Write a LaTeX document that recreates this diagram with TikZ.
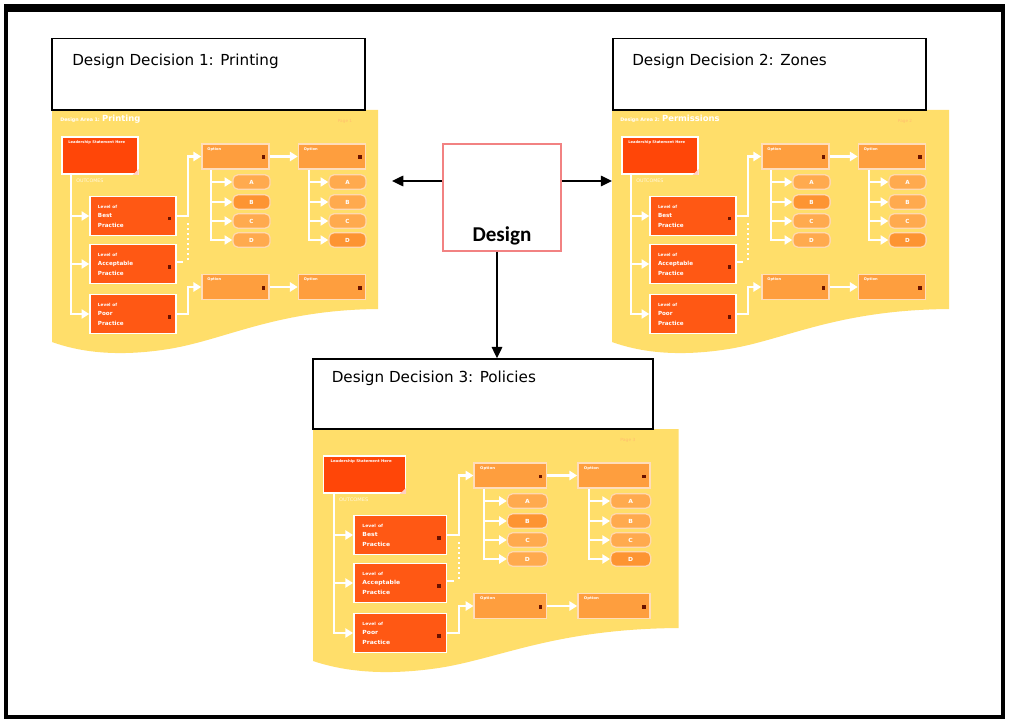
\documentclass[tikz,border=0pt]{standalone}
\usepackage{fontspec}
\setmainfont{DejaVu Sans}
\newfontfamily\designfont{Carlito}
\usepackage{tikz}
\usetikzlibrary{arrows.meta,positioning}
\definecolor{sheetyellow}{RGB}{255,222,106}
\definecolor{leadred}{RGB}{255,70,8}
\definecolor{cardred}{RGB}{255,88,20}
\definecolor{optorange}{RGB}{254,158,62}
\definecolor{pilllight}{RGB}{255,170,78}
\definecolor{pilldark}{RGB}{253,148,50}
\definecolor{icondark}{RGB}{105,18,0}
\definecolor{pagetxt}{RGB}{255,190,110}
\definecolor{outcometxt}{RGB}{255,248,225}
\definecolor{designpink}{RGB}{242,130,130}
\tikzset{
    ddbox/.style={draw=black, line width=1.1pt, fill=white, minimum width=7.82cm, minimum height=1.79cm, inner sep=0pt},
    ddlabel/.style={anchor=west, inner sep=0pt, font=\fontsize{10.8}{13}\selectfont},
    link/.style={line width=1.1pt, -{Triangle[length=8pt,width=7.5pt]}},
    flow/.style={draw=white, line width=1.7pt, -{Triangle[length=5.5pt,width=6.5pt]}},
    leadbox/.style={fill=leadred, draw=white, line width=1pt, minimum width=1.9cm, minimum height=0.93cm, inner sep=0pt},
    card/.style={fill=cardred, draw=white, line width=1pt, minimum width=2.15cm, minimum height=0.97cm, text width=1.75cm, inner xsep=0.2cm, align=left, text=white, font=\fontsize{4}{6.8}\selectfont\bfseries},
    optbox/.style={fill=optorange, draw=white!65!optorange, line width=1pt, minimum width=1.68cm, minimum height=0.62cm, inner sep=0pt},
    pill/.style={draw=white!55!pilllight, line width=0.9pt, rounded corners=3.5pt, minimum width=0.93cm, minimum height=0.36cm, inner sep=0pt, text=white, font=\fontsize{4}{4.5}\selectfont\bfseries},
    tinytxt/.style={inner sep=0pt, text=white, font=\fontsize{2.6}{3}\selectfont\bfseries},
    pics/panel/.style n args={4}{code={
        \fill[sheetyellow] (0,0) -- (#1,0) -- (#1,199) .. controls (220,200) and (170,232) .. (110,240) .. controls (60,247) and (25,241) .. (0,232) -- cycle;
        \node[tinytxt, anchor=base west, font=\fontsize{3.4}{4}\selectfont\bfseries] (-head) at (8,12) {#2 \fontsize{6}{7}\selectfont #3};
        \node[tinytxt, text=pagetxt, font=\fontsize{3}{3.5}\selectfont] (-page) at (293,11) {#4};
        \node[leadbox] (-big) at (48,45.5) {};
        \node[tinytxt, anchor=west] (-bigtxt) at (16,32) {Leadership Statement Here};
        \fill[white!75!leadred] (-big.south east) -- ++(-6,0) -- ++(6,-6) -- cycle;
        \node[tinytxt, text=outcometxt, anchor=west, font=\fontsize{3.4}{4}\selectfont] (-outc) at (24,71) {OUTCOMES};
        \node[card] (-c1) at (81,106) {{\fontsize{3}{3}\selectfont Level of}\\Best\\Practice};
        \node[card] (-c2) at (81,154) {{\fontsize{3}{3}\selectfont Level of}\\Acceptable\\Practice};
        \node[card] (-c3) at (81,204) {{\fontsize{3}{3}\selectfont Level of}\\Poor\\Practice};
        \foreach \c in {c1,c2,c3}
            \fill[icondark] (-\c.east) ++(-9,1) rectangle ++(3.5,3.5);
        \coordinate (-tr) at ([xshift=0.25cm]-big.south west);
        \draw[flow] (-tr) |- (-c3);
        \draw[flow] (-tr |- -c1) -- (-c1);
        \draw[flow] (-tr |- -c2) -- (-c2);
        \node[optbox] (-a1) at (183.5,46.5) {};
        \node[optbox] (-a2) at (280,46.5) {};
        \node[optbox] (-b1) at (183.5,177) {};
        \node[optbox] (-b2) at (280,177) {};
        \foreach \o in {a1,a2,b1,b2}{
            \node[tinytxt, anchor=north west] (-\o t) at ([shift={(6,4)}]-\o.north west) {Option};
            \fill[icondark] (-\o.east) ++(-8,-1) rectangle ++(3.5,3.5);
        }
        \draw[flow] (-c1.east) -- ++(11,0) |- (-a1);
        \draw[flow] (-c3.east) -- ++(11,0) |- (-b1);
        \draw[white, line width=1.2pt] (-c2.east) ++(0,-2) -- ++(6,0);
        \draw[white, line width=1.3pt, dash pattern=on 1.3pt off 2.3pt] (136,113) -- (136,152);
        \draw[flow] (-a1) -- (-a2);
        \draw[flow] (-b1) -- (-b2);
        \coordinate (-at) at ([xshift=0.25cm]-a1.south west);
        \coordinate (-bt) at ([xshift=0.275cm]-a2.south west);
        \foreach \l/\y/\pc/\qc in {A/72/pilllight/pilllight, B/92/pilldark/pilllight, C/111/pilllight/pilllight, D/130/pilllight/pilldark}{
            \node[pill, fill=\pc] (-p\l) at (199.5,\y) {\l};
            \node[pill, fill=\qc] (-q\l) at (295.5,\y) {\l};
        }
        \draw[flow] (-at) |- (-pD);
        \draw[flow] (-bt) |- (-qD);
        \foreach \l in {A,B,C}{
            \draw[flow] (-at |- -p\l) -- (-p\l);
            \draw[flow] (-bt |- -q\l) -- (-q\l);
        }
    }}
}

\begin{document}
\begin{tikzpicture}[x=0.025cm, y=-0.025cm]
\useasboundingbox (0,0) rectangle (1010,721);
\fill[white] (0,0) rectangle (1010,721);
\draw[line width=3pt] (6,9) rectangle (1003,717);
\draw[line width=5pt] (4,8) -- (1005,8);

\pic (p1) at (52,110) {panel={326}{Design Area 1:}{Printing}{Page 1}};
\pic (p2) at (612,110) {panel={337}{Design Area 2:}{Permissions}{Page 2}};
\pic[xscale=1.075, transform shape] (p3) at (313,429) {panel={340}{}{}{Page 3}};

\node[ddbox] (dd1) at (208.7,74.2) {};
\node[ddbox] (dd2) at (769.7,74.2) {};
\node[ddbox, minimum width=8.49cm, minimum height=1.75cm] (dd3) at (483,394) {};
\node[ddlabel] (dd1txt) at (72,61) {Design Decision 1: Printing};
\node[ddlabel] (dd2txt) at (632,61) {Design Decision 2: Zones};
\node[ddlabel] (dd3txt) at (331.5,378) {Design Decision 3: Policies};

\node[draw=designpink, line width=1.1pt, minimum width=2.95cm, minimum height=2.67cm] (design) at (502,197.5) {};
\node[font={\fontsize{15}{18}\designfont\bfseries}] (designtxt) at (502,236) {Design};

\coordinate (lefttip) at (392,181);
\coordinate (righttip) at (612,181);
\coordinate (downtip) at (497,357);
\draw[link] (design.west |- lefttip) -- (lefttip);
\draw[link] (design.east |- righttip) -- (righttip);
\draw[link] (design.south -| downtip) -- (downtip |- dd3.north);
\end{tikzpicture}
\end{document}
